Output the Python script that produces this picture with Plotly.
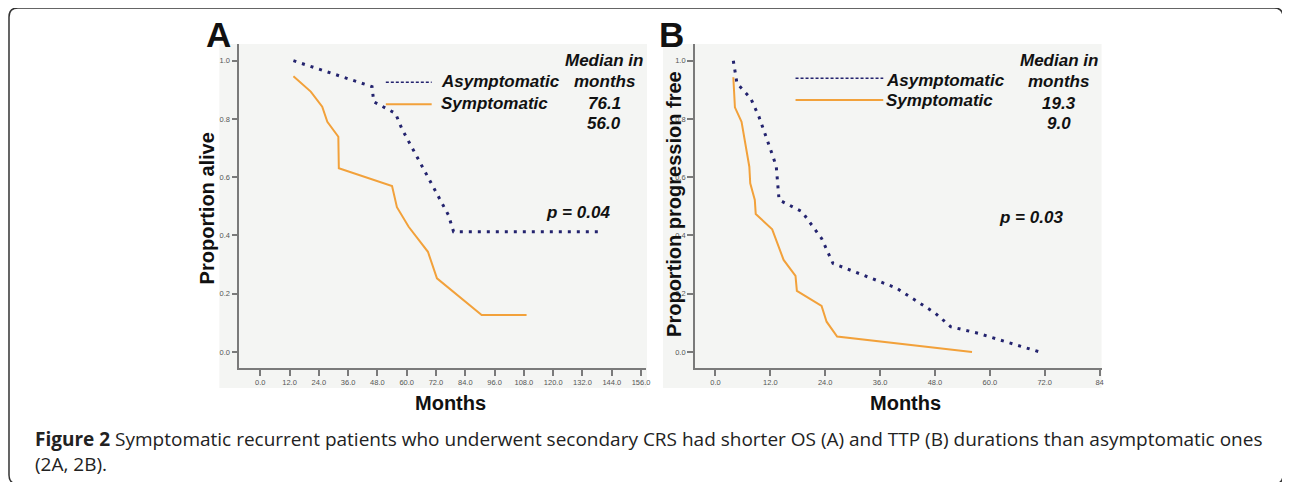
import plotly.graph_objects as go

# the page body has an 8px margin, so the figure is drawn 8px smaller and all
# pixel positions below are given in window coordinates and shifted by OFF.
OFF = 8
W, H = 1290 - OFF, 482 - OFF

# ---------------- data ----------------
os_asym_months = [13.6, 45.8, 46.5, 55.4, 58.1, 77.1, 79.2, 140.4]
os_asym_surv = [1.0, 0.911, 0.859, 0.819, 0.765, 0.47, 0.413, 0.413]
os_sym_months = [13.6, 20.7, 25.4, 27.5, 32.0, 32.2, 54.0, 56.0, 60.8, 68.7, 72.4, 90.7, 109.1]
os_sym_surv = [0.947, 0.894, 0.842, 0.79, 0.739, 0.631, 0.57, 0.497, 0.43, 0.344, 0.253, 0.127, 0.127]

ttp_asym_months = [3.9, 4.7, 7.7, 9.5, 12.6, 13.3, 13.9, 18.9, 23.2, 25.7, 39.5, 48.1, 51.4, 57.5, 70.9]
ttp_asym_surv = [1.0, 0.922, 0.871, 0.808, 0.67, 0.636, 0.522, 0.482, 0.39, 0.304, 0.22, 0.133, 0.087, 0.064, 0.0]
ttp_sym_months = [3.9, 4.25, 5.7, 7.4, 7.6, 8.6, 8.8, 12.4, 14.9, 17.5, 17.8, 23.2, 24.3, 26.6, 56.1]
ttp_sym_surv = [0.943, 0.84, 0.79, 0.636, 0.579, 0.522, 0.474, 0.421, 0.316, 0.261, 0.21, 0.158, 0.104, 0.053, 0.0]

xticks_a = [0, 12, 24, 36, 48, 60, 72, 84, 96, 108, 120, 132, 144, 156]
xticklabels_a = ["0.0", "12.0", "24.0", "36.0", "48.0", "60.0", "72.0", "84.0", "96.0",
                 "108.0", "120.0", "132.0", "144.0", "156.0"]
xticks_b = [0, 12, 24, 36, 48, 60, 72, 84]
xticklabels_b = ["0.0", "12.0", "24.0", "36.0", "48.0", "60.0", "72.0", "84"]
yticks = [0.0, 0.2, 0.4, 0.6, 0.8, 1.0]
yticklabels = ["0.0", "0.2", "0.4", "0.6", "0.8", "1.0"]

medians_a = ["76.1", "56.0"]
medians_b = ["19.3", "9.0"]
pval_a = "p = 0.04"
pval_b = "p = 0.03"
caption = ("<b>Figure 2</b> Symptomatic recurrent patients who underwent secondary CRS had shorter OS (A) "
           "and TTP (B) durations than asymptomatic ones<br>(2A, 2B).")

NAVY = "#23236e"
ORANGE = "#f2a13a"
BG = "#f4f5f3"


def fx(p):
    return (p - OFF) / W


def fy(p):
    return 1 - (p - OFF) / H


fig = go.Figure()

fig.add_trace(go.Scatter(x=os_asym_months, y=os_asym_surv, mode="lines",
                         line=dict(color=NAVY, width=3, dash="3px,6px"),
                         xaxis="x", yaxis="y", showlegend=False))
fig.add_trace(go.Scatter(x=os_sym_months, y=os_sym_surv, mode="lines",
                         line=dict(color=ORANGE, width=2),
                         xaxis="x", yaxis="y", showlegend=False))
fig.add_trace(go.Scatter(x=ttp_asym_months, y=ttp_asym_surv, mode="lines",
                         line=dict(color=NAVY, width=3, dash="3px,6px"),
                         xaxis="x2", yaxis="y2", showlegend=False))
fig.add_trace(go.Scatter(x=ttp_sym_months, y=ttp_sym_surv, mode="lines",
                         line=dict(color=ORANGE, width=2),
                         xaxis="x2", yaxis="y2", showlegend=False))

tickfont = dict(family="Liberation Sans, Arial", size=7.5, color="#555555")
axcommon = dict(showline=True, linecolor="#7a7a7a", linewidth=1.5, ticks="outside",
                tickcolor="#7a7a7a", tickwidth=1.5, showgrid=False, zeroline=False,
                tickfont=tickfont)

# pixel geometry of the axes
y_dom = [fy(368), fy(44)]
y_range = [-16 / 291.3, (352 - 44) / 291.3]
ax_scale = 2.449
bx_scale = 4.587

fig.update_layout(
    width=W, height=H, margin=dict(l=0, r=0, t=0, b=0),
    paper_bgcolor="white", plot_bgcolor="rgba(0,0,0,0)",
    xaxis=dict(domain=[fx(240), fx(648)], range=[(240 - 261) / ax_scale, (648 - 261) / ax_scale],
               tickvals=xticks_a, ticktext=xticklabels_a, ticklen=6, anchor="y", **axcommon),
    yaxis=dict(domain=y_dom, range=y_range, tickvals=yticks, ticktext=yticklabels,
               ticklen=6, anchor="x", **axcommon),
    xaxis2=dict(domain=[fx(697), fx(1105)], range=[(697 - 717.7) / bx_scale, (1105 - 717.7) / bx_scale],
                tickvals=xticks_b, ticktext=xticklabels_b, ticklen=6, anchor="y2", **axcommon),
    yaxis2=dict(domain=y_dom, range=y_range, tickvals=yticks, ticktext=yticklabels,
                ticklen=6, anchor="x2", **axcommon),
)

shapes = []
# panel backgrounds
shapes.append(dict(type="rect", xref="paper", yref="paper", x0=fx(220), x1=fx(649), y0=fy(388), y1=fy(44),
                   fillcolor=BG, line=dict(width=0), layer="below"))
shapes.append(dict(type="rect", xref="paper", yref="paper", x0=fx(665), x1=fx(1105), y0=fy(388), y1=fy(44),
                   fillcolor=BG, line=dict(width=0), layer="below"))
# outer rounded frame (its bottom edge falls just below the visible window)
r = 9
x0, x1, y0, y1 = 9, 1287, 8, 484
path = (f"M {fx(x0+r)},{fy(y0)} L {fx(x1-r)},{fy(y0)} Q {fx(x1)},{fy(y0)} {fx(x1)},{fy(y0+r)} "
        f"L {fx(x1)},{fy(y1-r)} Q {fx(x1)},{fy(y1)} {fx(x1-r)},{fy(y1)} "
        f"L {fx(x0+r)},{fy(y1)} Q {fx(x0)},{fy(y1)} {fx(x0)},{fy(y1-r)} "
        f"L {fx(x0)},{fy(y0+r)} Q {fx(x0)},{fy(y0)} {fx(x0+r)},{fy(y0)} Z")
shapes.append(dict(type="path", xref="paper", yref="paper", path=path,
                   line=dict(color="#333333", width=1.5)))
# legend keys
for (lx0, lx1, ya, ys) in [(387, 433, 82.3, 104.3), (798, 886, 78.3, 100)]:
    shapes.append(dict(type="line", xref="paper", yref="paper", x0=fx(lx0), x1=fx(lx1), y0=fy(ya), y1=fy(ya),
                       line=dict(color=NAVY, width=1.5, dash="3px,2px")))
    shapes.append(dict(type="line", xref="paper", yref="paper", x0=fx(lx0), x1=fx(lx1), y0=fy(ys), y1=fy(ys),
                       line=dict(color=ORANGE, width=2)))
fig.update_layout(shapes=shapes)

ann = []
BF = "Liberation Sans, Arial"


def txt(text, x, y, size, xanchor="center", angle=0, bold=True, italic=False, color="#111111", family=BF):
    t = text
    if bold:
        t = f"<b>{t}</b>"
    if italic:
        t = f"<i>{t}</i>"
    ann.append(dict(text=t, x=fx(x), y=fy(y), xref="paper", yref="paper", showarrow=False,
                    xanchor=xanchor, yanchor="middle", textangle=angle,
                    font=dict(family=family, size=size, color=color)))


# panel letters
txt("A", 219, 35, 35)
txt("B", 674, 35, 35)
# axis titles
txt("Proportion alive", 208, 208, 20, angle=-90)
txt("Proportion progression free", 676, 204, 20, angle=-90)
txt("Months", 452, 403, 20)
txt("Months", 908, 403, 20)
# legend texts
txt("Asymptomatic", 440, 82, 17, xanchor="left", italic=True)
txt("Symptomatic", 440, 104, 17, xanchor="left", italic=True)
txt("Asymptomatic", 887, 80, 17, xanchor="left", italic=True)
txt("Symptomatic", 887, 101, 17, xanchor="left", italic=True)
# medians
for cx, meds in [(606, medians_a), (1062, medians_b)]:
    txt("Median in", cx, 60, 17, italic=True)
    txt("months", cx, 82, 17, italic=True)
    txt(meds[0], cx, 103, 17, italic=True)
    txt(meds[1], cx, 123, 17, italic=True)
# p values
txt(pval_a, 580, 213, 17, italic=True)
txt(pval_b, 1034, 218, 17, italic=True)
# caption (two lines in one text block)
ann.append(dict(text=caption, x=fx(33), y=fy(451.5), xref="paper", yref="paper", showarrow=False,
                xanchor="left", yanchor="middle", align="left",
                font=dict(family="Open Sans", size=19, color="#222222")))

fig.update_layout(annotations=ann)

fig.write_html("out.html")
